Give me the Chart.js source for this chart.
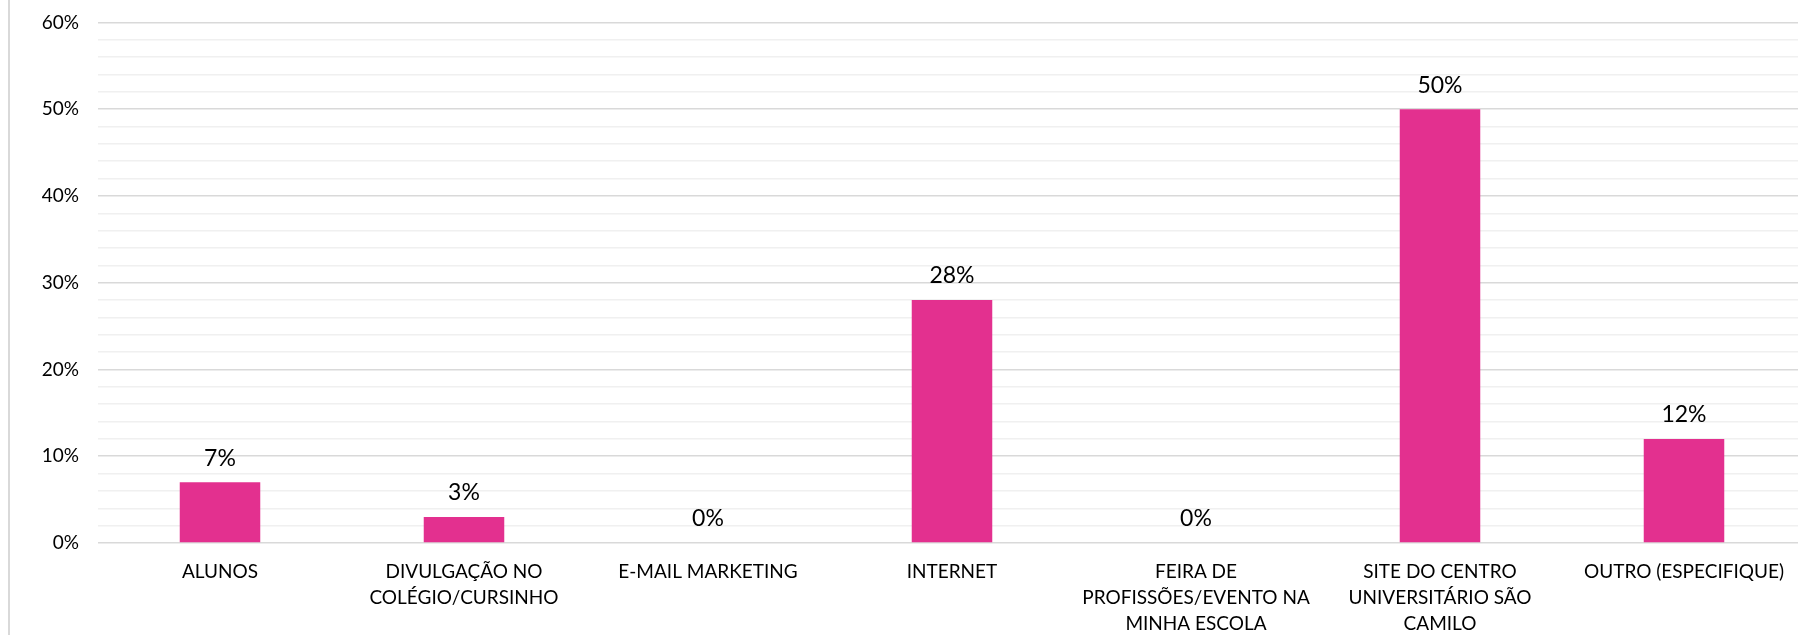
<!DOCTYPE html>
<html>
<head>
<meta charset="utf-8">
<script src="https://cdn.jsdelivr.net/npm/chart.js@4/dist/chart.umd.min.js"></script>
<style>
  html, body { margin: 0; padding: 0; background: #fff; overflow: hidden; }
  #wrap { position: relative; width: 1806px; height: 643px; margin-top: -8px; }
  #frame { position: absolute; left: 8px; top: 0; width: 2px; height: 643px; background: #d9d9d9; }
</style>
</head>
<body>
<div id="wrap">
  <div id="frame"></div>
  <canvas id="myChart"></canvas>
</div>
<script>
var categories = [
  'ALUNOS',
  ['DIVULGAÇÃO NO', 'COLÉGIO/CURSINHO'],
  'E-MAIL MARKETING',
  'INTERNET',
  ['FEIRA DE', 'PROFISSÕES/EVENTO NA', 'MINHA ESCOLA'],
  ['SITE DO CENTRO', 'UNIVERSITÁRIO SÃO', 'CAMILO'],
  'OUTRO (ESPECIFIQUE)'
];
var percentages = [7, 3, 0, 28, 0, 50, 12];
var yMax = 60;
var yStep = 2;

// value labels above each bar
var barLabels = {
  id: 'barLabels',
  afterDatasetsDraw: function(chart) {
    var ctx = chart.ctx;
    var meta = chart.getDatasetMeta(0);
    ctx.save();
    ctx.font = '23px Lato';
    ctx.fillStyle = '#000';
    ctx.textAlign = 'center';
    ctx.textBaseline = 'middle';
    meta.data.forEach(function(bar, i) {
      ctx.fillText(percentages[i] + '%', bar.x, bar.y - 24);
    });
    ctx.restore();
  }
};

function generateChart(){
  var ctx = document.getElementById('myChart').getContext('2d');
  new Chart(ctx, {
    type: 'bar',
    data: {
      labels: categories,
      datasets: [{
        data: percentages,
        backgroundColor: 'rgb(227, 48, 143)',
        borderWidth: 0,
        categoryPercentage: 1,
        barPercentage: 0.33
      }]
    },
    options: {
      responsive: true,
      maintainAspectRatio: false,
      animation: false,
      layout: { padding: 0 },
      plugins: { legend: { display: false }, tooltip: { enabled: false } },
      scales: {
        x: {
          grid: { display: false },
          border: { display: false },
          ticks: {
            color: '#000',
            font: { family: 'Lato', size: 19, lineHeight: 1.37 },
            padding: 8,
            maxRotation: 0,
            autoSkip: false
          },
          afterFit: function(scale) { scale.height = 92; }
        },
        y: {
          min: 0,
          max: yMax,
          border: { display: false },
          grid: {
            drawTicks: false,
            lineWidth: 1.5,
            color: function(c) {
              return c.tick.value % 10 === 0 ? '#d9d9d9' : '#f0f0f0';
            }
          },
          ticks: {
            stepSize: yStep,
            color: '#000',
            font: { family: 'Lato', size: 19 },
            padding: 19,
            autoSkip: false,
            callback: function(v) { return v % 10 === 0 ? v + '%' : ''; }
          },
          afterFit: function(scale) { scale.width = 98; }
        }
      }
    },
    plugins: [barLabels]
  });
}

generateChart();
</script>
</body>
</html>
